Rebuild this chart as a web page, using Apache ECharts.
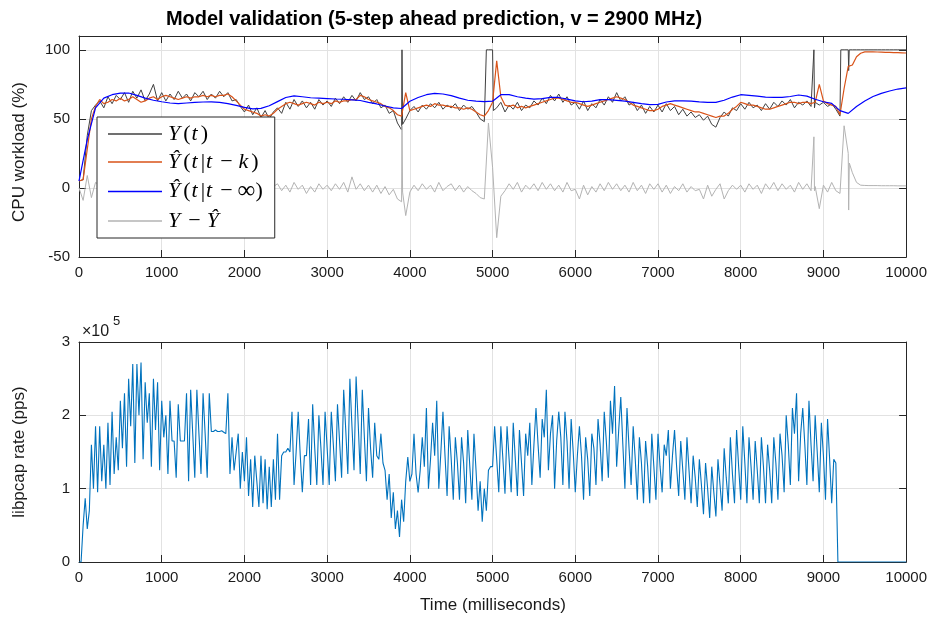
<!DOCTYPE html>
<html><head><meta charset="utf-8">
<script src="https://cdn.jsdelivr.net/npm/echarts/dist/echarts.min.js"></script>
<style>html,body{margin:0;padding:0;background:#fff}#c{width:930px;height:617px}</style>
</head><body><div id="c"></div>
<script>
// ---------- data ----------
const TOP_STEP = 50;    // ms between samples of the top-panel series
const BLUE_STEP = 100;  // ms between samples of the open-loop prediction
const RATE_STEP = 25;   // ms between samples of the libpcap rate

const xTicks = [0,1000,2000,3000,4000,5000,6000,7000,8000,9000,10000];
const cpuTicks = [-50,0,50,100];
const rateTicks = [0,1,2,3];

// Y(t) measured CPU workload (%)
const workloadY = [
 5,6,38,56,60,63,58,66,61,67,
 64,69,62,70,65,71,63,68,75,63,
 69,63,68,64,70,65,68,63,69,66,
 70,64,68,65,70,66,69,63,64,59,
 55,60,53,58,51,56,50,55,58,54,
 62,57,64,59,63,58,62,57,64,60,
 63,59,65,61,66,62,67,63,69,64,
 66,61,64,58,60,54,56,47,42,50,
 56,59,55,60,57,61,58,62,57,60,
 58,61,56,60,57,59,55,50,48,100,
 100,58,62,55,60,57,62,56,60,58,
 63,60,65,61,67,63,68,62,66,60,
 62,57,63,56,61,58,64,60,66,62,
 69,63,66,60,62,56,60,54,59,55,
 60,55,61,56,59,53,57,52,55,51,
 53,49,52,46,44,51,55,52,58,56,
 61,57,62,58,60,56,61,57,62,59,
 63,60,64,58,62,60,63,59,62,60,
 62,59,61,57,52,100,100,100,100,100,
 100,100,100,100,100,100,100,100,100,100,
 100];
// narrow spikes of Y(t) between regular samples: [time ms, value]
const workloadYSpikes = [[3905,100],[3912,46],[4925,100],[5010,56],[8885,100],[8892,58],[9210,100],[9305,85],[9312,100]];

// Y^(t|t-k) k-step ahead prediction (%)
const predK = [
 5,6,28,50,59,64,61,62,64,63,
 65,63,64,66,64,62,63,65,66,64,
 66,67,66,65,64,65,66,65,66,66,
 67,66,67,66,67,67,68,66,63,60,
 57,56,55,54,52,53,52,54,57,59,
 61,62,61,60,61,62,61,60,62,61,
 62,61,63,62,63,63,64,64,67,66,
 64,63,62,61,59,58,56,53,52,69,
 56,57,58,59,60,59,61,60,60,59,
 59,58,58,57,58,57,55,53,52,56,
 62,92,66,60,59,60,58,59,58,59,
 60,61,62,63,64,65,65,64,63,62,
 62,61,60,59,60,61,62,63,64,65,
 66,65,64,62,60,59,58,57,56,56,
 57,59,60,61,60,59,58,57,56,55,
 55,54,53,52,51,52,52,54,57,59,
 62,61,60,60,59,58,57,57,58,59,
 60,61,62,62,61,62,62,61,62,75,
 63,61,60,59,53,72,88,89,95,97.5,
 98.5,98.6,98.5,98.4,98.3,98.2,98.1,98,97.9,97.8,
 97.7];

// Y^(t|t-inf) open-loop prediction (%)
const predInf = [
 5,35,58,65,67.5,68.7,68.7,67,65,63.5,
 62.4,61.5,61,61.5,62,62.2,62.3,62,61,59.8,
 58.3,57.2,57.6,59.5,62.5,65.5,66.7,66,65.3,65,
 64.7,64.4,64.2,63.8,63.3,62,60.8,59.3,58,57.5,
 62.8,65.5,67.5,68.5,68,66.8,65,63.5,62.8,62.5,
 62.8,67.5,67.5,66,65,64.3,64.6,65.5,65.5,64.3,
 63,62.4,62.8,64,64,63.4,62.8,62,61,60.3,
 60.5,62.2,63,63,62.8,62.3,62,62,63.5,65.8,
 67.5,67,66.5,65.8,65.5,65.5,66.2,67.3,66.5,64.2,
 62.4,61.2,56,54,59,63,66.2,68.5,70.2,71.6,
 72.5];

// Y - Y^ residual (%)
const residual = [
 0,-9,9,-7,4,2,-5,3,1,-3,
 2,-4,5,-2,3,-5,4,-1,6,-3,
 3,-4,2,-3,4,-2,3,-4,2,-1,
 3,-3,1,-2,4,-1,2,-3,1,-1,
 -2,4,-2,3,-1,2,-3,1,3,-2,
 2,-3,4,-1,2,-4,1,-3,3,-1,
 2,-2,3,-1,4,-3,8,-1,3,-2,
 2,-3,2,-4,1,-5,-1,-8,-10,-20,
 -3,2,-2,3,-1,2,-3,4,-2,1,
 3,-2,2,-3,1,-2,-4,-7,-8,47,
 15,-36,-6,-2,3,-1,4,-3,2,-1,
 3,-2,4,-1,3,-2,2,-3,4,-2,
 -1,-8,2,-5,1,-3,3,-2,4,-1,
 3,-2,2,-3,4,-2,2,-4,3,-1,
 3,-3,2,-4,1,-2,3,-3,1,-2,
 -1,-8,2,-6,-1,3,-8,-2,2,-1,
 2,-3,3,-1,2,-4,3,-1,4,-2,
 3,-1,2,-3,4,-1,3,-2,1,-15,
 2,-3,4,-2,-4,45,25,11,4,2,
 1.8,1.7,1.7,1.7,1.6,1.6,1.6,1.6,1.5,1.5,
 1.5];
const residualSpikes = [[3905,45],[3912,-3],[8885,37],[8892,-2],[9305,-16],[9313,18]];

// libpcap rate (x 10^5 packets per second)
const rate = [
 0,0,0.5,0.87,0.45,0.7,1.6,1.0,1.85,0.95,1.85,1.1,1.6,1.0,1.9,1.05,2.05,1.2,1.7,1.25,
 2.2,1.55,2.3,1.3,2.5,1.85,2.7,1.35,2.7,2.0,2.72,1.4,2.45,1.9,2.3,1.3,2.5,1.8,2.45,1.25,
 2.2,1.7,2.0,1.2,2.2,1.65,1.65,1.15,2.15,1.65,1.65,1.65,2.3,1.1,2.35,1.75,1.15,2.35,1.75,1.2,
 2.3,1.75,1.15,2.3,1.78,1.78,1.8,1.78,1.78,1.79,1.77,1.75,2.3,1.2,1.7,1.25,1.5,1.75,1.0,1.5,
 1.1,1.7,0.9,1.4,0.75,1.45,1.1,0.75,1.45,0.8,1.4,0.72,1.3,0.75,1.4,0.85,1.75,0.85,1.45,1.5,
 1.5,1.55,1.5,2.05,1.05,1.5,2.05,1.45,0.95,1.45,1.45,1.95,1.05,2.15,1.55,1.05,2.0,1.55,1.05,2.05,
 1.55,1.05,2.05,1.6,1.1,2.15,1.65,1.15,2.35,1.8,1.2,2.5,1.85,1.25,2.53,1.9,1.2,2.35,1.7,1.1,
 2.1,1.55,1.15,1.9,1.45,1.4,1.75,1.35,1.25,0.85,1.2,0.6,0.95,0.45,0.7,0.34,0.85,0.55,1.1,1.43,
 1.1,1.2,1.75,1.2,0.95,1.25,1.7,1.3,2.1,1.0,1.4,1.9,1.45,2.2,1.0,1.5,2.05,1.45,0.9,1.85,
 1.4,0.85,1.7,1.35,0.85,1.7,1.35,0.8,1.8,1.3,0.85,1.75,1.25,0.7,1.1,0.55,1.0,0.7,1.25,1.3,
 1.3,1.85,1.4,0.95,1.85,1.4,0.93,1.85,1.4,0.95,1.9,1.4,0.9,1.8,1.35,0.9,1.75,1.45,1.9,1.05,
 1.6,2.1,1.6,1.15,1.95,1.7,2.35,1.25,1.75,2.0,1.0,1.65,2.05,1.7,1.05,2.05,1.65,1.0,1.95,1.5,
 0.95,1.45,1.85,1.45,0.85,1.7,1.4,0.9,1.75,1.55,1.05,1.95,1.6,1.1,2.05,1.65,1.15,2.2,1.75,2.4,
 1.3,1.8,2.25,1.6,1.0,2.1,1.55,1.05,1.85,1.4,0.85,1.7,1.35,0.8,1.65,1.3,0.8,1.75,1.3,0.85,
 1.75,1.3,0.95,1.6,1.45,1.8,1.0,1.45,1.8,1.3,0.9,1.65,1.25,0.85,1.7,1.25,0.8,1.45,1.15,0.75,
 1.4,1.05,0.65,1.35,1.0,0.6,1.3,0.95,0.62,1.4,1.05,0.7,1.55,1.15,0.8,1.7,1.2,0.8,1.8,1.3,
 0.85,1.85,1.35,0.8,1.7,1.3,0.85,1.65,1.25,0.8,1.7,1.3,0.8,1.6,1.25,0.8,1.7,1.35,0.85,1.75,
 1.45,0.95,2.0,1.6,1.05,2.1,1.75,2.3,1.1,1.75,2.1,1.6,1.05,2.2,1.6,1.1,2.0,1.5,0.95,1.9,
 1.45,0.85,1.95,1.4,0.8,1.4,1.35,0,0,0,0,0,0,0,0,0,0,0,0,0,
 0,0,0,0,0,0,0,0,0,0,0,0,0,0,0,0,0,0,0,0,
 0];

const legendLabels = {
  Y:   '{i|Y}{r|(}{i|t}{r|)}',
  K:   '{i|Ŷ}{r|(}{i|t}{r||}{i|t}{m|−}{i|k}{r|)}',
  Inf: '{i|Ŷ}{r|(}{i|t}{r||}{i|t}{m|−}{inf|∞}{r|)}',
  Res: '{i|Y}{m|−}{i|Ŷ}'
};

// ---------- helpers ----------
function pairs(vals, step, extra) {
  const p = vals.map((v, i) => [i * step, v]);
  if (extra) extra.forEach(e => p.push(e));
  p.sort((a, b) => a[0] - b[0]);
  return p;
}

const SANS = '"Liberation Sans", Arial, Helvetica, sans-serif';
const SERIF = '"Liberation Serif", "DejaVu Serif", serif';
const AX = '#262626';
const GRIDC = '#e2e2e2';
const plain = v => String(v);

function xAx(grid, pos, labels) {
  return {
    type: 'value', gridIndex: grid, position: pos, min: xTicks[0], max: xTicks[xTicks.length - 1], interval: 1000,
    axisLine: { show: true, onZero: false, lineStyle: { color: AX, width: 1 } },
    axisTick: { show: true, inside: true, length: 7, lineStyle: { color: AX } },
    axisLabel: { show: labels, color: '#1a1a1a', fontSize: 15, fontFamily: SANS, margin: 8, formatter: plain },
    splitLine: { show: labels, lineStyle: { color: GRIDC, width: 1 } }
  };
}
function yAx(grid, pos, labels, mn, mx, iv) {
  return {
    type: 'value', gridIndex: grid, position: pos, min: mn, max: mx, interval: iv,
    axisLine: { show: true, onZero: false, lineStyle: { color: AX, width: 1 } },
    axisTick: { show: true, inside: true, length: 7, lineStyle: { color: AX } },
    axisLabel: { show: labels, color: '#1a1a1a', fontSize: 15, fontFamily: SANS, margin: 9, showMaxLabel: mx === 3, formatter: plain },
    splitLine: { show: labels, lineStyle: { color: GRIDC, width: 1 } }
  };
}

const chart = echarts.init(document.getElementById('c'), null, { renderer: 'canvas' });
const lineBase = { type: 'line', showSymbol: false, symbol: 'none', animation: false, clip: true };
const txt = { fontFamily: SERIF, fontSize: 22, color: '#000', lineHeight: 20 };

chart.setOption({
  animation: false,
  backgroundColor: '#fff',
  grid: [
    { left: 79, top: 36, width: 828, height: 221 },
    { left: 79, top: 342, width: 828, height: 220 }
  ],
  xAxis: [xAx(0, 'bottom', true), xAx(0, 'top', false), xAx(1, 'bottom', true), xAx(1, 'top', false)],
  yAxis: [
    yAx(0, 'left', true, cpuTicks[0], 110, 50), yAx(0, 'right', false, cpuTicks[0], 110, 50),
    yAx(1, 'left', true, rateTicks[0], rateTicks[3], 1), yAx(1, 'right', false, rateTicks[0], rateTicks[3], 1)
  ],
  legend: {
    orient: 'vertical', left: 97, top: 117,
    padding: [6, 12, 6, 11], itemWidth: 54, itemHeight: 1.6, itemGap: 6,
    backgroundColor: '#fff', borderColor: AX, borderWidth: 1, borderRadius: 0,
    selectedMode: false,
    data: [{ name: 'Y', icon: 'rect' }, { name: 'K', icon: 'rect' }, { name: 'Inf', icon: 'rect' }, { name: 'Res', icon: 'rect' }],
    formatter: n => legendLabels[n],
    textStyle: Object.assign({}, txt, {
      rich: {
        i: Object.assign({}, txt, { fontStyle: 'italic', padding: [0, 3, 0, 1] }),
        r: Object.assign({}, txt),
        m: Object.assign({}, txt, { padding: [0, 5, 0, 5] }),
        inf: Object.assign({}, txt, { fontSize: 25 })
      }
    })
  },
  series: [
    Object.assign({ name: 'Y', xAxisIndex: 0, yAxisIndex: 0, data: pairs(workloadY, TOP_STEP, workloadYSpikes),
      lineStyle: { color: '#404040', width: 1 }, itemStyle: { color: '#404040' } }, lineBase),
    Object.assign({ name: 'K', xAxisIndex: 0, yAxisIndex: 0, data: pairs(predK, TOP_STEP),
      lineStyle: { color: '#D95319', width: 1.2 }, itemStyle: { color: '#D95319' } }, lineBase),
    Object.assign({ name: 'Inf', xAxisIndex: 0, yAxisIndex: 0, data: pairs(predInf, BLUE_STEP),
      lineStyle: { color: '#0000FF', width: 1.2 }, itemStyle: { color: '#0000FF' } }, lineBase),
    Object.assign({ name: 'Res', xAxisIndex: 0, yAxisIndex: 0, data: pairs(residual, TOP_STEP, residualSpikes),
      lineStyle: { color: '#B3B3B3', width: 1 }, itemStyle: { color: '#B3B3B3' } }, lineBase),
    Object.assign({ name: 'rate', xAxisIndex: 2, yAxisIndex: 2, data: pairs(rate, RATE_STEP),
      lineStyle: { color: '#0072BD', width: 1.1 }, itemStyle: { color: '#0072BD' } }, lineBase)
  ],
  graphic: [
    { type: 'text', x: 434, y: 19, style: { text: 'Model validation (5-step ahead prediction, v = 2900 MHz)',
      fontSize: 20, fontWeight: 'bold', fontFamily: SANS, fill: '#000', align: 'center', verticalAlign: 'middle',
      textAlign: 'center', textVerticalAlign: 'middle' } },
    { type: 'text', x: 19, y: 152, rotation: Math.PI / 2, style: { text: 'CPU workload (%)',
      fontSize: 17, fontFamily: SANS, fill: '#1a1a1a', align: 'center', verticalAlign: 'middle',
      textAlign: 'center', textVerticalAlign: 'middle' } },
    { type: 'text', x: 19, y: 452, rotation: Math.PI / 2, style: { text: 'libpcap rate (pps)',
      fontSize: 17, fontFamily: SANS, fill: '#1a1a1a', align: 'center', verticalAlign: 'middle',
      textAlign: 'center', textVerticalAlign: 'middle' } },
    { type: 'text', x: 493, y: 605, style: { text: 'Time (milliseconds)',
      fontSize: 17, fontFamily: SANS, fill: '#1a1a1a', align: 'center', verticalAlign: 'middle',
      textAlign: 'center', textVerticalAlign: 'middle' } },
    { type: 'text', x: 82, y: 332, style: { text: '×10', fontSize: 16, fontFamily: SANS, fill: '#1a1a1a',
      align: 'left', verticalAlign: 'middle', textAlign: 'left', textVerticalAlign: 'middle' } },
    { type: 'text', x: 113, y: 321, style: { text: '5', fontSize: 13, fontFamily: SANS, fill: '#1a1a1a',
      align: 'left', verticalAlign: 'middle', textAlign: 'left', textVerticalAlign: 'middle' } }
  ]
});
</script></body></html>
